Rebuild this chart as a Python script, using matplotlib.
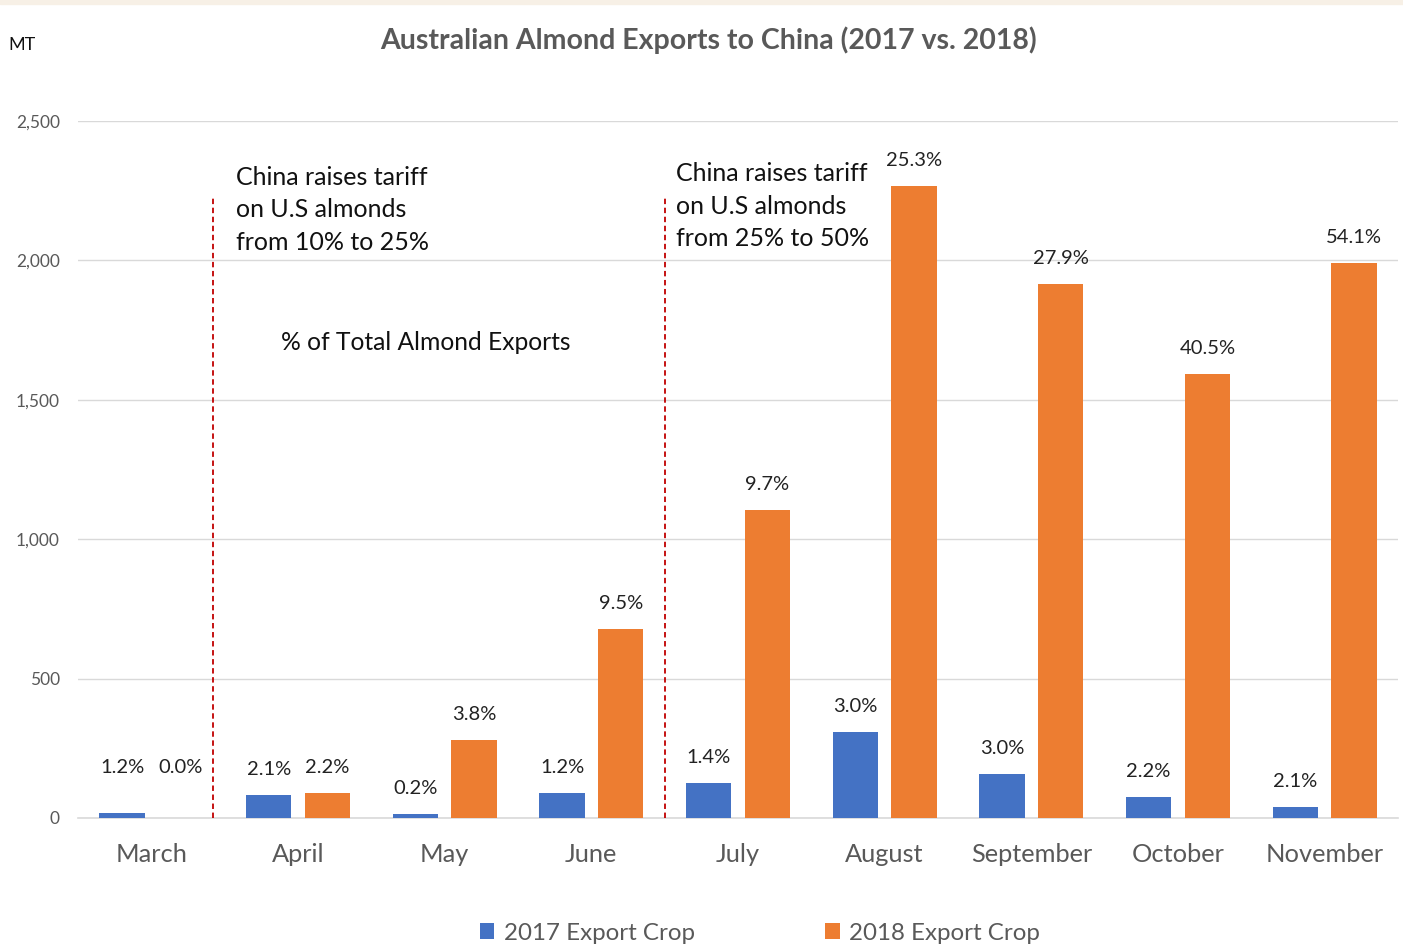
import matplotlib
matplotlib.use("Agg")
import matplotlib.pyplot as plt
from matplotlib.ticker import FuncFormatter
import numpy as np

months = ["March", "April", "May", "June", "July", "August", "September", "October", "November"]
exports_2017 = [18, 82, 14, 90, 125, 308, 158, 75, 39]
exports_2018 = [0, 90, 280, 678, 1105, 2267, 1915, 1593, 1991]
pct_2017 = ["1.2%", "2.1%", "0.2%", "1.2%", "1.4%", "3.0%", "3.0%", "2.2%", "2.1%"]
pct_2018 = ["0.0%", "2.2%", "3.8%", "9.5%", "9.7%", "25.3%", "27.9%", "40.5%", "54.1%"]
yticks = [0, 500, 1000, 1500, 2000, 2500]

FONT = ["Lato", "DejaVu Sans"]
plt.rcParams["font.family"] = FONT

C17 = "#4472C4"
C18 = "#ED7D31"

fig = plt.figure(figsize=(14.03, 9.52), dpi=100)
fig.patch.set_facecolor("white")
ax = fig.add_axes([78/1403, 134/952, 1320/1403, (818-121)/952])

x = np.arange(len(months))
w = 0.307
off = 0.2
b1 = ax.bar(x - off, exports_2017, w, color=C17, label="2017 Export Crop", zorder=3)
b2 = ax.bar(x + off, exports_2018, w, color=C18, label="2018 Export Crop", zorder=3)

def label_y(i, v):
    # labels sit just above the bar; March's pair was lifted to a common height in the original
    if i == 0:
        return max(exports_2017[0], exports_2018[0]) + 162
    return v + 92

for i, (xi, v, t) in enumerate(zip(x, exports_2017, pct_2017)):
    ax.text(xi - off, label_y(i, v), t, ha="center", va="center", fontsize=14.5, color="#222222")
for i, (xi, v, t) in enumerate(zip(x, exports_2018, pct_2018)):
    ax.text(xi + off, label_y(i, v), t, ha="center", va="center", fontsize=14.5, color="#222222")

ax.set_xlim(-0.5, len(months) - 0.5)
ax.set_ylim(0, 2500)
ax.set_yticks(yticks)
ax.yaxis.set_major_formatter(FuncFormatter(lambda v, p: f"{int(v):,}"))
ax.set_xticks(x)
ax.set_xticklabels(months, fontsize=18.3, color="#595959")
ax.tick_params(axis="y", labelsize=12.5, colors="#595959", length=0, pad=13)
ax.tick_params(axis="x", length=0, pad=18)
ax.grid(axis="y", color="#D9D9D9", linewidth=1, zorder=0)
for s in ["top", "right", "left"]:
    ax.spines[s].set_visible(False)
ax.spines["bottom"].set_color("#D9D9D9")
ax.spines["bottom"].set_linewidth(1.2)

# tariff markers
for xv in [0.42, 3.50]:
    ax.plot([xv, xv], [0, 2227], color="#C00000", linestyle=(0, (3, 2)), linewidth=1.3, zorder=4)

ax.text(0.58, 2340, "China raises tariff\non U.S almonds\nfrom 10% to 25%", fontsize=18,
        color="#111111", va="top", ha="left", linespacing=1.5)
ax.text(3.58, 2352, "China raises tariff\non U.S almonds\nfrom 25% to 50%", fontsize=18,
        color="#111111", va="top", ha="left", linespacing=1.5)
ax.text(1.87, 1705, "% of Total Almond Exports", fontsize=17.7, color="#111111",
        va="center", ha="center")

fig.text(708/1403, 1 - 40/952, "Australian Almond Exports to China (2017 vs. 2018)",
         ha="center", va="center", fontsize=20.5, fontweight="bold", color="#595959")
fig.text(8/1403, 1 - 45/952, "MT", ha="left", va="center", fontsize=13, color="#111111")

fig.patches.append(plt.Rectangle((0, 1 - 4/952), 1, 4/952, transform=fig.transFigure,
                                 color="#F7F0E6", zorder=0))

leg = fig.legend(handles=[b1, b2], loc="center", bbox_to_anchor=(760/1403, 1 - 933/952),
                 ncol=2, frameon=False, fontsize=17.4, handlelength=0.6, handleheight=0.6,
                 columnspacing=5.4, handletextpad=0.4)
for t in leg.get_texts():
    t.set_color("#595959")

fig.savefig("out.png", dpi=100)
